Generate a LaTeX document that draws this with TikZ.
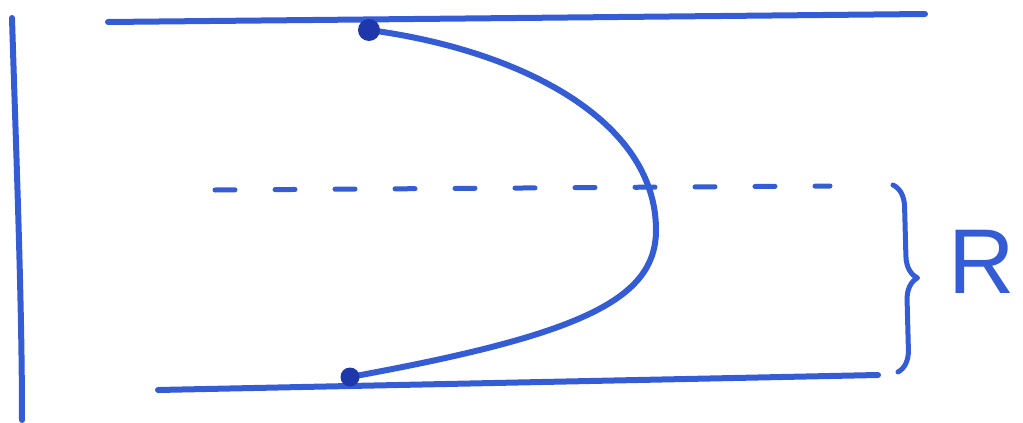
\documentclass[tikz,border=0pt]{standalone}
\usepackage{fontspec}
\setmainfont{Liberation Sans}
\usetikzlibrary{decorations.pathreplacing}
\definecolor{ink}{RGB}{52,92,212}
\definecolor{darkink}{RGB}{30,55,170}
\tikzset{
  pen/.style={draw=ink, line width=6pt, line cap=round, line join=round},
  blob/.style={circle, fill=darkink, inner sep=0pt, minimum size=22pt},
  axisline/.style={draw=ink, line width=5pt, line cap=round, dash pattern=on 20pt off 40pt},
}
\begin{document}
\begin{tikzpicture}[x=1pt, y=-1pt]
\useasboundingbox (0,0) rectangle (1023,423);
% coordinates
\coordinate (vtop) at (12,18);
\coordinate (vbot) at (22,420);
\coordinate (tl) at (108,22);
\coordinate (tr) at (925,14);
\coordinate (bl) at (158,390);
\coordinate (br) at (878,375);
\coordinate (dl) at (215,190);
\coordinate (dr) at (830,186);
\coordinate (vx) at (656,230);
\coordinate (bra) at (893,185);
\coordinate (brb) at (898,372);
\coordinate (tc) at (369,30);
\coordinate (bc) at (350,377);
% lines
\draw[pen] (vtop) .. controls (16,150) and (22,300) .. (vbot);
\draw[pen] (tl) -- (tr);
\draw[pen] (bl) -- (br);
\draw[axisline] (dl) -- (dr);
% parabola
\draw[pen] (tc) .. controls (520,50) and (656,120) .. (vx)
  .. controls (656,300) and (580,335) .. (bc);
% dots
\node[blob] (T) at (tc) {};
\node[blob, minimum size=19pt] (B) at (bc) {};
% brace
\draw[pen, line width=5pt, decorate, decoration={brace, amplitude=22pt}] (bra) -- (brb);
\node[text=ink, font=\fontsize{92}{92}\selectfont, anchor=west] (R) at (945,262) {R};
\end{tikzpicture}
\end{document}
